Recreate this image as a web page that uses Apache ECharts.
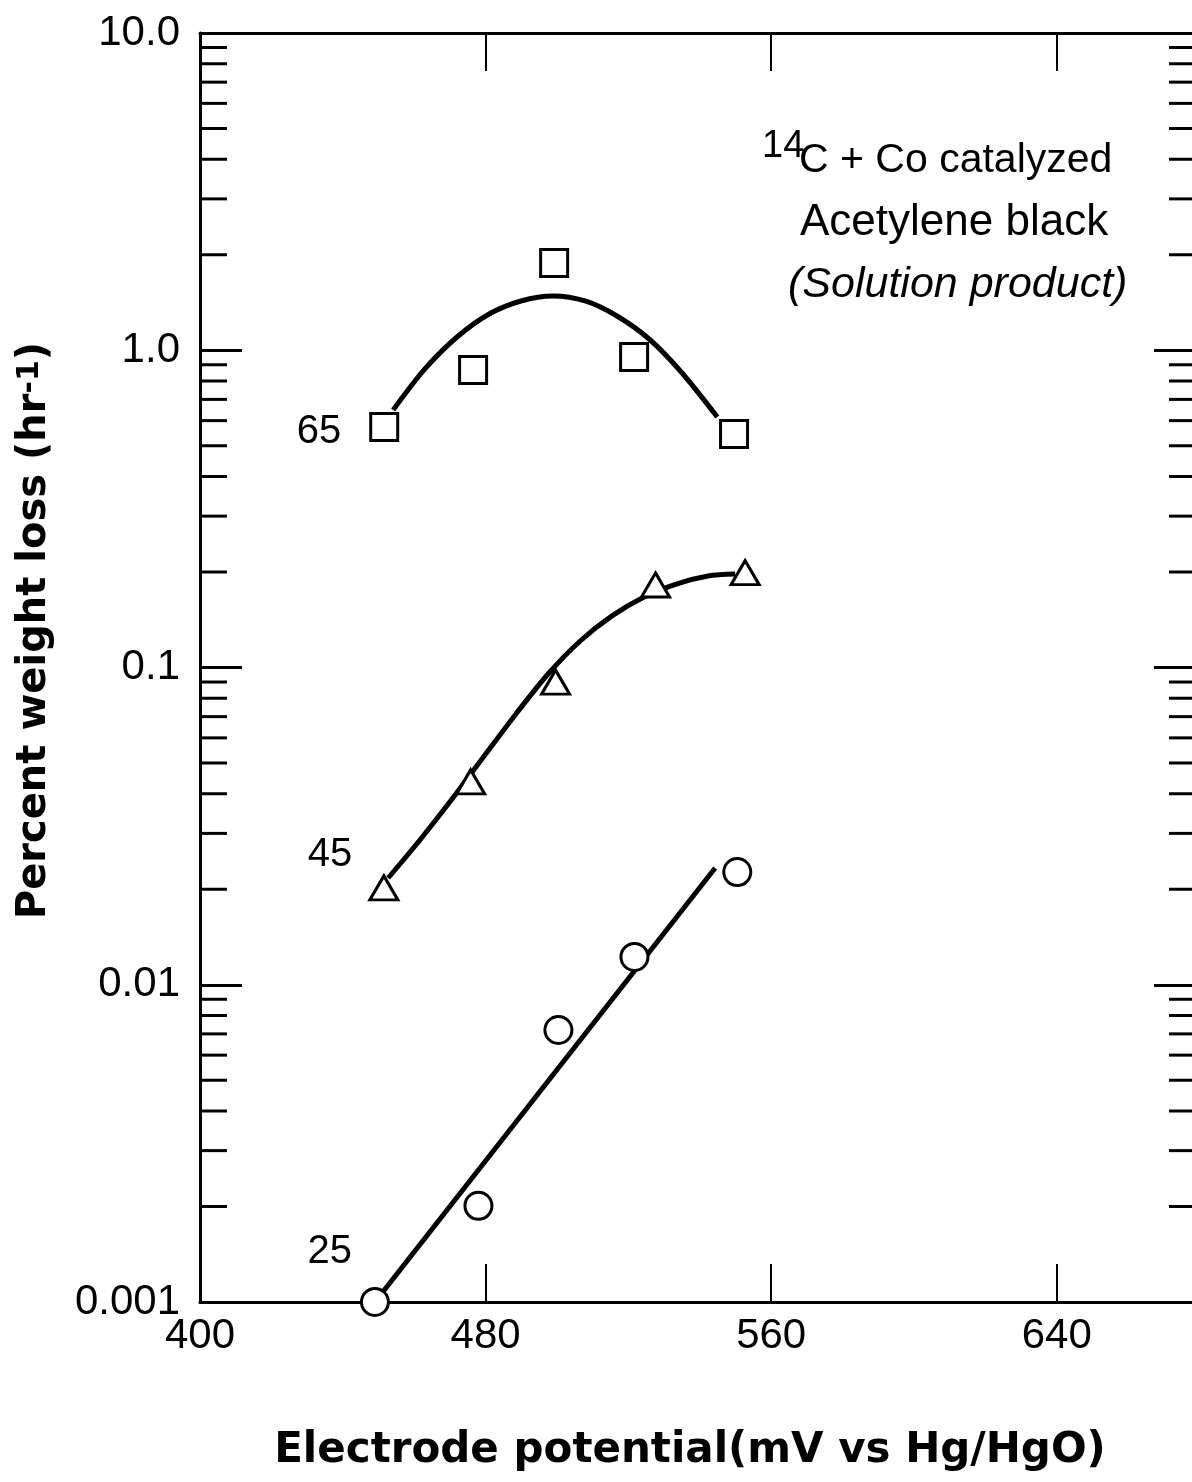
<!DOCTYPE html>
<html><head><meta charset="utf-8">
<script src="https://cdn.jsdelivr.net/npm/echarts@6/dist/echarts.min.js"></script>
<style>html,body{margin:0;padding:0;background:#fff}#c{width:1192px;height:1482px}</style>
</head><body><div id="c"></div>
<script>
// ---- axis / tick data ----
const xTickValues = [400, 480, 560, 640];
const xInnerTicks = [480, 560, 640];
const yTickValues = [0.001, 0.01, 0.1, 1, 10];
const yTickLabels = ['0.001', '0.01', '0.1', '1.0', '10.0'];
const minorMultipliers = [2, 3, 4, 5, 6, 7, 8, 9];
const decades = [0.001, 0.01, 0.1, 1];
const X_MIN = 400, X_MAX = 679;

// ---- series data ----
const seriesNames = ['65', '45', '25'];
const sq65X = [451.6, 476.5, 499.2, 521.6, 549.6];
const sq65Y = [0.573, 0.866, 1.884, 0.952, 0.545];
const fit65X = [454.1, 463.0, 472.0, 481.0, 489.9, 498.9, 507.9, 516.8, 525.8, 534.8, 544.9];
const fit65Y = [0.648, 0.873, 1.101, 1.301, 1.430, 1.483, 1.430, 1.282, 1.085, 0.854, 0.616];
const tri45X = [451.5, 475.8, 499.6, 527.6, 552.7];
const tri45Y = [0.0202, 0.0436, 0.090, 0.182, 0.199];
const fit45X = [452.7, 461.6, 470.6, 479.6, 488.5, 497.5, 506.5, 515.4, 524.4, 533.4, 542.3, 549.9];
const fit45Y = [0.0217, 0.0286, 0.0385, 0.0526, 0.0714, 0.0954, 0.1212, 0.1454, 0.1668, 0.1833, 0.1943, 0.1971];
const cir25X = [449.0, 478.0, 500.4, 521.7, 550.5];
const cir25Y = [0.00100, 0.00201, 0.0072, 0.01224, 0.02266];
const fit25X = [449.0, 544.3];
const fit25Y = [0.00100, 0.02333];

const minorVals = [];
decades.forEach(d => minorMultipliers.forEach(m => minorVals.push(m * d)));

const zip = (xs, ys) => xs.map((x, i) => [x, ys[i]]);
const TICK_FONT = 'Liberation Sans';
const TITLE_FONT = 'DejaVu Sans';

function markers(xs, ys, labelOpt) {
  return xs.map((x, i) => i === 0
    ? { value: [x, ys[i]], label: Object.assign({ show: true, formatter: '{a}', color: '#000', fontSize: 40, fontFamily: TICK_FONT }, labelOpt) }
    : { value: [x, ys[i]] });
}

const markerStyle = { color: '#fff', borderColor: '#000', borderWidth: 3, opacity: 1 };
const fitStyle = { color: '#000', width: 5 };

const chart = echarts.init(document.getElementById('c'), null, { renderer: 'canvas' });
chart.setOption({
  animation: false,
  backgroundColor: '#fff',
  grid: { left: 200, top: 33, width: 996, height: 1269, containLabel: false, outerBoundsMode: 'none' },
  xAxis: [{
    type: 'value', min: X_MIN, max: X_MAX, interval: 80, position: 'bottom',
    axisLine: { show: true, lineStyle: { color: '#000', width: 3 } },
    axisTick: { show: true, inside: true, length: 38, customValues: xInnerTicks, lineStyle: { color: '#000', width: 2 } },
    axisLabel: { show: true, customValues: xTickValues, margin: 13, color: '#000', fontSize: 42, fontFamily: TICK_FONT },
    splitLine: { show: false },
    name: 'Electrode potential(mV vs Hg/HgO)', nameLocation: 'middle', nameGap: 128,
    nameTextStyle: { color: '#000', fontSize: 42, fontWeight: 'bold', fontFamily: TITLE_FONT, padding: [0, 16, 0, 0] }
  }, {
    type: 'value', min: X_MIN, max: X_MAX, interval: 80, position: 'top',
    axisLine: { show: true, lineStyle: { color: '#000', width: 3 } },
    axisTick: { show: true, inside: true, length: 38, customValues: xInnerTicks, lineStyle: { color: '#000', width: 2 } },
    axisLabel: { show: false }, splitLine: { show: false }
  }],
  yAxis: [{
    type: 'log', logBase: 10, min: 0.001, max: 10, position: 'left',
    axisLine: { show: true, lineStyle: { color: '#000', width: 3 } },
    axisTick: { show: true, inside: true, length: 42, lineStyle: { color: '#000', width: 3 } },
    axisLabel: {
      show: true, margin: 20, color: '#000', fontSize: 42, fontFamily: TICK_FONT,
      formatter: v => { const i = Math.round(Math.log10(v)) + 3; return yTickLabels[i] !== undefined ? yTickLabels[i] : ''; }
    },
    splitLine: { show: false },
    name: '{a|Percent weight loss (hr}{s|-1}{a|)}', nameLocation: 'middle', nameGap: 145, nameRotate: 90,
    nameTextStyle: {
      color: '#000', padding: [0, 0, 0, 74],
      rich: {
        a: { fontSize: 40, fontWeight: 'bold', fontFamily: TITLE_FONT, color: '#000' },
        s: { fontSize: 30, fontWeight: 'bold', fontFamily: TITLE_FONT, color: '#000', verticalAlign: 'top' }
      }
    }
  }, {
    type: 'log', logBase: 10, min: 0.001, max: 10, position: 'right',
    axisLine: { show: true, lineStyle: { color: '#000', width: 3 } },
    axisTick: { show: true, inside: true, length: 42, lineStyle: { color: '#000', width: 3 } },
    axisLabel: { show: false }, splitLine: { show: false }
  }],
  graphic: [
    { type: 'text', x: 762, y: 147, style: { text: '14', fontSize: 38, fontFamily: TICK_FONT, fill: '#000', align: 'left', verticalAlign: 'middle', textAlign: 'left', textVerticalAlign: 'middle' } },
    { type: 'text', x: 799, y: 161, style: { text: 'C + Co catalyzed', fontSize: 41, fontFamily: TICK_FONT, fill: '#000', align: 'left', verticalAlign: 'middle', textAlign: 'left', textVerticalAlign: 'middle' } },
    { type: 'text', x: 800, y: 223, style: { text: 'Acetylene black', fontSize: 44, fontFamily: TICK_FONT, fill: '#000', align: 'left', verticalAlign: 'middle', textAlign: 'left', textVerticalAlign: 'middle' } },
    { type: 'text', x: 788, y: 285, style: { text: '(Solution product)', fontSize: 43, fontStyle: 'italic', fontFamily: TICK_FONT, fill: '#000', align: 'left', verticalAlign: 'middle', textAlign: 'left', textVerticalAlign: 'middle' } }
  ],
  series: [
    {
      type: 'custom', name: 'minorTicks', xAxisIndex: 0, yAxisIndex: 0, silent: true, clip: false, z: 5,
      data: minorVals.map(v => [X_MIN, v]),
      renderItem: (params, api) => {
        const v = api.value(1);
        const l = api.coord([X_MIN, v]);
        const r = api.coord([X_MAX, v]);
        return { type: 'group', children: [
          { type: 'line', shape: { x1: l[0], y1: l[1], x2: l[0] + 27, y2: l[1] }, style: { stroke: '#000', lineWidth: 3 } },
          { type: 'line', shape: { x1: r[0] - 27, y1: r[1], x2: r[0], y2: r[1] }, style: { stroke: '#000', lineWidth: 3 } }
        ] };
      }
    },
    { type: 'line', name: 'fit65', data: zip(fit65X, fit65Y), smooth: 0.3, symbol: 'none', lineStyle: fitStyle, z: 2 },
    { type: 'line', name: 'fit45', data: zip(fit45X, fit45Y), smooth: 0.3, symbol: 'none', lineStyle: fitStyle, z: 2 },
    { type: 'line', name: 'fit25', data: zip(fit25X, fit25Y), symbol: 'none', lineStyle: fitStyle, z: 2 },
    { type: 'scatter', name: seriesNames[0], symbol: 'rect', symbolSize: 27, itemStyle: markerStyle, z: 3,
      data: markers(sq65X, sq65Y, { position: 'left', distance: 28, offset: [0, 5] }) },
    { type: 'scatter', name: seriesNames[1], symbol: 'triangle', symbolSize: [28, 24], itemStyle: markerStyle, z: 3,
      data: markers(tri45X, tri45Y, { position: 'left', distance: 16, offset: [0, -33] }) },
    { type: 'scatter', name: seriesNames[2], symbol: 'circle', symbolSize: 27, itemStyle: markerStyle, z: 3,
      data: markers(cir25X, cir25Y, { position: 'left', distance: 8, offset: [0, -50] }) }
  ]
});
</script>
</body></html>
